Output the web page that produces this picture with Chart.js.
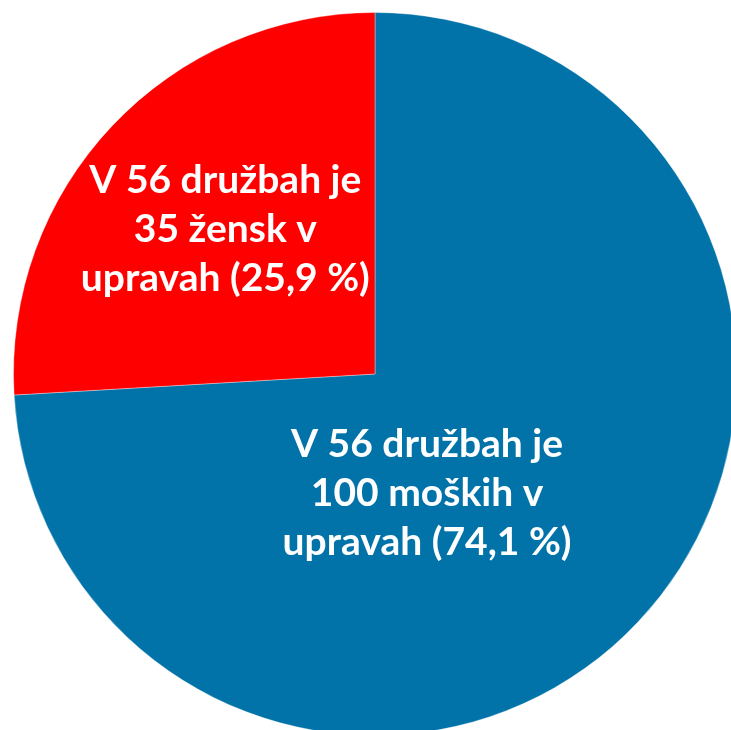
<!doctype html>
<html lang="sl">
<head>
    <meta charset="UTF-8">
    <title>Ženske v upravah</title>
    <script src="https://cdn.jsdelivr.net/npm/chart.js"></script>
    <style>
        html, body { margin: 0; padding: 0; overflow: hidden; background: #fff; }
        #wrap { position: absolute; left: 0; top: 0; width: 750px; height: 748px; }
    </style>
</head>
<body>
<div id="wrap"><canvas id="pieChart"></canvas></div>

<script>
    // podatki
    const categories = ['Moški', 'Ženske'];
    const counts = [100, 35];
    const colors = ['#0173A8', '#FF0000'];
    const labelLines = [
        ['V 56 družbah je', '100 moških v', 'upravah (74,1 %)'],
        ['V 56 družbah je', '35 žensk v', 'upravah (25,9 %)']
    ];

    // napisi v rezinah (odmik od sredine glede na polmer)
    const sliceLabels = {
        id: 'sliceLabels',
        afterDatasetsDraw(chart, args, opts) {
            const ctx = chart.ctx;
            const arcs = chart.getDatasetMeta(0).data;
            ctx.save();
            ctx.fillStyle = '#fff';
            ctx.font = opts.font;
            ctx.textAlign = 'center';
            ctx.textBaseline = 'alphabetic';
            arcs.forEach((arc, i) => {
                const r = arc.outerRadius;
                const cx = arc.x + opts.offsets[i][0] * r;
                const cy = arc.y + opts.offsets[i][1] * r;
                const lines = labelLines[i];
                const start = cy - (lines.length - 1) / 2 * opts.lineHeight;
                lines.forEach((t, j) => {
                    ctx.fillText(t, cx, start + j * opts.lineHeight + opts.baseline);
                });
            });
            ctx.restore();
        }
    };

    new Chart(document.getElementById('pieChart'), {
        type: 'pie',
        data: {
            labels: categories,
            datasets: [{
                data: counts,
                backgroundColor: colors,
                borderColor: 'rgba(255,255,255,0.35)',
                borderWidth: 1
            }]
        },
        options: {
            responsive: true,
            maintainAspectRatio: false,
            animation: false,
            layout: { padding: 12 },
            plugins: {
                legend: { display: false },
                tooltip: { enabled: false },
                sliceLabels: {
                    font: 'bold 39px Lato',
                    lineHeight: 49,
                    baseline: 12,
                    offsets: [[0.144, 0.333], [-0.414, -0.398]]
                }
            }
        },
        plugins: [sliceLabels]
    });
</script>
</body>
</html>
